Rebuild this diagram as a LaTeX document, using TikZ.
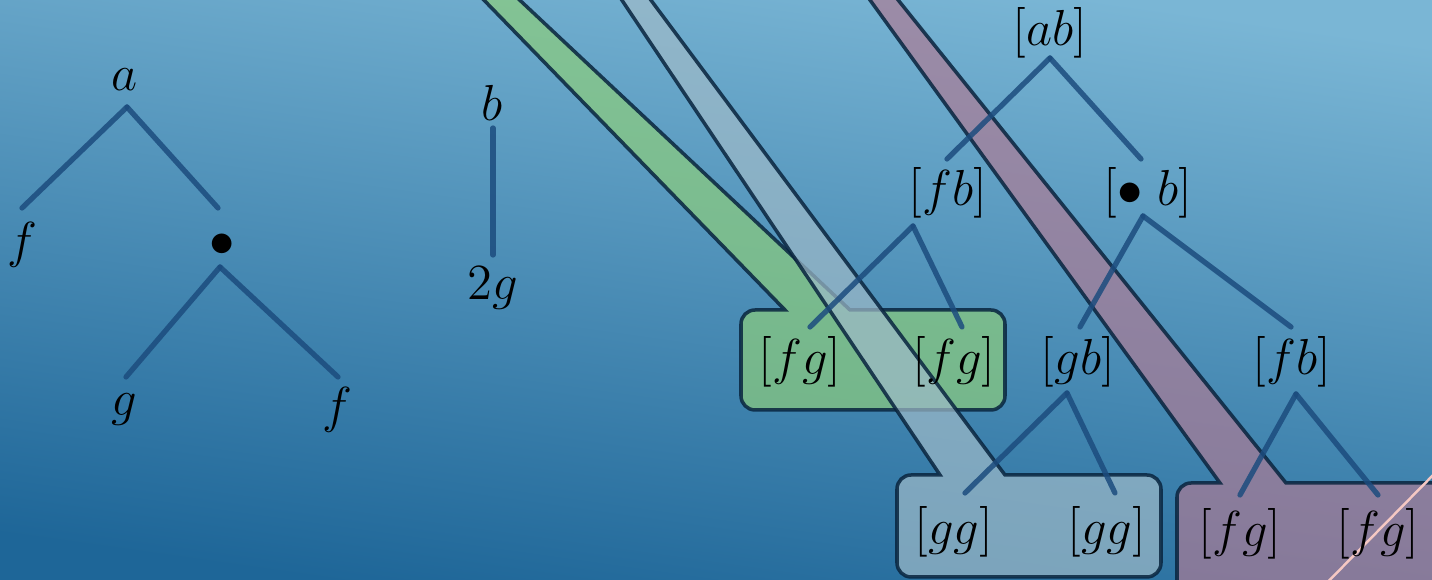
\documentclass[tikz,border=0pt]{standalone}
\definecolor{bgtop}{RGB}{122,182,213}
\definecolor{bgbot}{RGB}{30,102,152}
\definecolor{brcol}{RGB}{28,76,126}
\definecolor{edgecol}{RGB}{8,36,62}
\definecolor{gfill}{RGB}{140,205,125}
\definecolor{bfill}{RGB}{158,186,200}
\definecolor{pfill}{RGB}{172,124,150}
\definecolor{pinkln}{RGB}{245,200,195}
\begin{document}
\begin{tikzpicture}[x=0.01cm, y=-0.01cm,
    lbl/.style={font=\fontsize{14.5}{17}\selectfont, inner sep=1pt},
    br/.style={draw=brcol, line width=1.5pt, line cap=round, opacity=.85},
    callout/.style={draw=edgecol, line width=1pt, draw opacity=.85, fill opacity=.7}]
    \useasboundingbox (0,0) rectangle (1432,580);
    \clip (0,0) rectangle (1432,580);
    \shade[top color=bgtop, bottom color=bgbot, shading angle=-8] (0,0) rectangle (1432,580);

    \draw[callout, fill=gfill] (445,-40) -- (477,-40) -- (850,310) [rounded corners=4pt]
      -- (1005,310) -- (1005,410) -- (741,410) -- (741,310) [sharp corners] -- (785,310) -- cycle;
    \draw[callout, fill=bfill] (595,-40) -- (621,-40) -- (1005,475) [rounded corners=4pt]
      -- (1161,475) -- (1161,577) -- (897,577) -- (897,475) [sharp corners] -- (940,475) -- cycle;
    \draw[callout, fill=pfill] (841,-40) -- (866,-40) -- (1286,483) [rounded corners=4pt]
      -- (1460,483) -- (1460,610) -- (1177,610) -- (1177,483) [sharp corners] -- (1220,483) -- cycle;
    \draw[pinkln, line width=.7pt] (1445,463) -- (1310,600);

    \node[lbl] (a) at (125,80) {$a$};
    \node[lbl] (f1) at (22,245) {$f$};
    \node[lbl] (dot) at (222,245) {$\bullet$};
    \node[lbl] (g1) at (124,410) {$g$};
    \node[lbl] (f2) at (337,410) {$f$};
    \node[lbl] (b) at (492,103) {$b$};
    \node[lbl] (g2) at (493,288) {$2g$};
    \node[lbl] (ab) at (1050,33) {$[ab]$};
    \node[lbl] (fb) at (948,193) {$[fb]$};
    \node[lbl] (db) at (1148,193) {$[\bullet\;b]$};
    \node[lbl] (fgA) at (800,362) {$[fg]$};
    \node[lbl] (fgB) at (954,362) {$[fg]$};
    \node[lbl] (gb) at (1078,362) {$[gb]$};
    \node[lbl] (fbB) at (1292,362) {$[fb]$};
    \node[lbl] (ggA) at (954,532) {$[gg]$};
    \node[lbl] (ggB) at (1107,532) {$[gg]$};
    \node[lbl] (fgC) at (1240,534) {$[fg]$};
    \node[lbl] (fgD) at (1378,534) {$[fg]$};

    \coordinate (a-dn) at (127,107);
    \coordinate (f1-up) at (22,208);
    \coordinate (dot-up) at (218,208);
    \coordinate (dot-dn) at (220,267);
    \coordinate (g1-up) at (126,377);
    \coordinate (f2-up) at (338,377);
    \coordinate (b-dn) at (493,128);
    \coordinate (g2-up) at (493,255);
    \coordinate (ab-dn) at (1050,58);
    \coordinate (fb-up) at (947,159);
    \coordinate (db-up) at (1141,159);
    \coordinate (fb-dn) at (913,226);
    \coordinate (fgA-up) at (810,327);
    \coordinate (fgB-up) at (962,327);
    \coordinate (db-dn) at (1143,216);
    \coordinate (gb-up) at (1080,327);
    \coordinate (fbB-up) at (1291,327);
    \coordinate (gb-dn) at (1067,393);
    \coordinate (ggA-up) at (965,493);
    \coordinate (ggB-up) at (1115,493);
    \coordinate (fbB-dn) at (1296,394);
    \coordinate (fgC-up) at (1240,495);
    \coordinate (fgD-up) at (1378,495);

    \foreach \p/\c in {a/f1, a/dot, dot/g1, dot/f2, b/g2, ab/fb, ab/db, fb/fgA, fb/fgB,
                       db/gb, db/fbB, gb/ggA, gb/ggB, fbB/fgC, fbB/fgD}
      \draw[br] (\p-dn) -- (\c-up);
\end{tikzpicture}
\end{document}
